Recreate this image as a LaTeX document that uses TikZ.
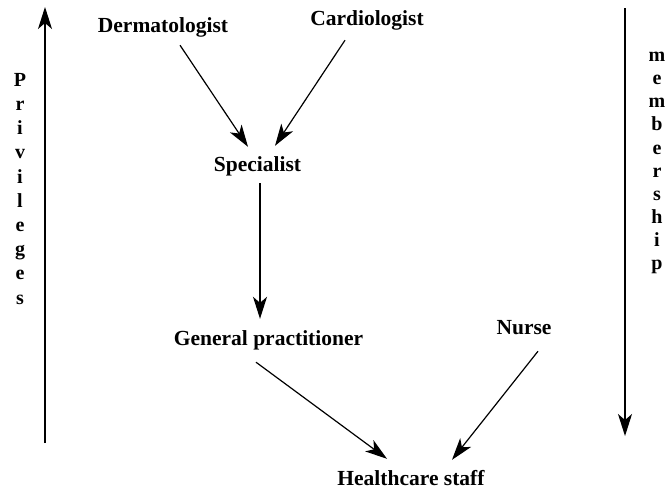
\documentclass[tikz,border=0pt]{standalone}
\usepackage{fontspec}
\setmainfont{Liberation Serif}
\usetikzlibrary{arrows.meta}
\begin{document}
\begin{tikzpicture}[x=1pt,y=-1pt,
  lbl/.style={font=\fontsize{21.5}{24}\selectfont\bfseries, inner sep=0pt, anchor=base, text height=15pt, text depth=4.5pt},
  col/.style={font=\fontsize{20}{#1}\selectfont\bfseries, inner sep=0pt, anchor=north, align=center},
  arr/.style={line width=1.2pt, -{Stealth[length=22pt, width=14pt, inset=6pt]}}]
\useasboundingbox (0,0) rectangle (668,491);
\node[lbl] (derm) at (163,32) {Dermatologist};
\node[lbl] (card) at (367,25) {Cardiologist};
\node[lbl] (spec) at (257.5,171) {Specialist};
\node[lbl] (gp) at (268.5,345) {General practitioner};
\node[lbl] (nurse) at (524,334) {Nurse};
\node[lbl] (hc) at (411,485) {Healthcare staff};
\node[col=24.2pt] (priv) at (20,73) {P\\r\\i\\v\\i\\l\\e\\g\\e\\s};
\node[col=23.1pt] (memb) at (657,52) {m\\e\\m\\b\\e\\r\\s\\h\\i\\p};
\coordinate (pbot) at (45,443);
\coordinate (ptop) at (45,7);
\coordinate (mtop) at (625,8);
\coordinate (mbot) at (625,436);
\draw[arr] ([shift={(17,8.5)}]derm.south) -- ([shift={(-9.5,-9)}]spec.north);
\draw[arr] ([shift={(-22,10.5)}]card.south) -- ([shift={(17.5,-10)}]spec.north);
\draw[arr] ([shift={(2.5,7.5)}]spec.south) -- ([shift={(-8.5,-11)}]gp.north);
\draw[arr] ([shift={(-12.5,12.5)}]gp.south) -- ([shift={(-24,-11)}]hc.north);
\draw[arr] ([shift={(14,12.5)}]nurse.south) -- ([shift={(41,-10)}]hc.north);
\draw[arr] (pbot) -- (ptop);
\draw[arr] (mtop) -- (mbot);
\end{tikzpicture}
\end{document}
